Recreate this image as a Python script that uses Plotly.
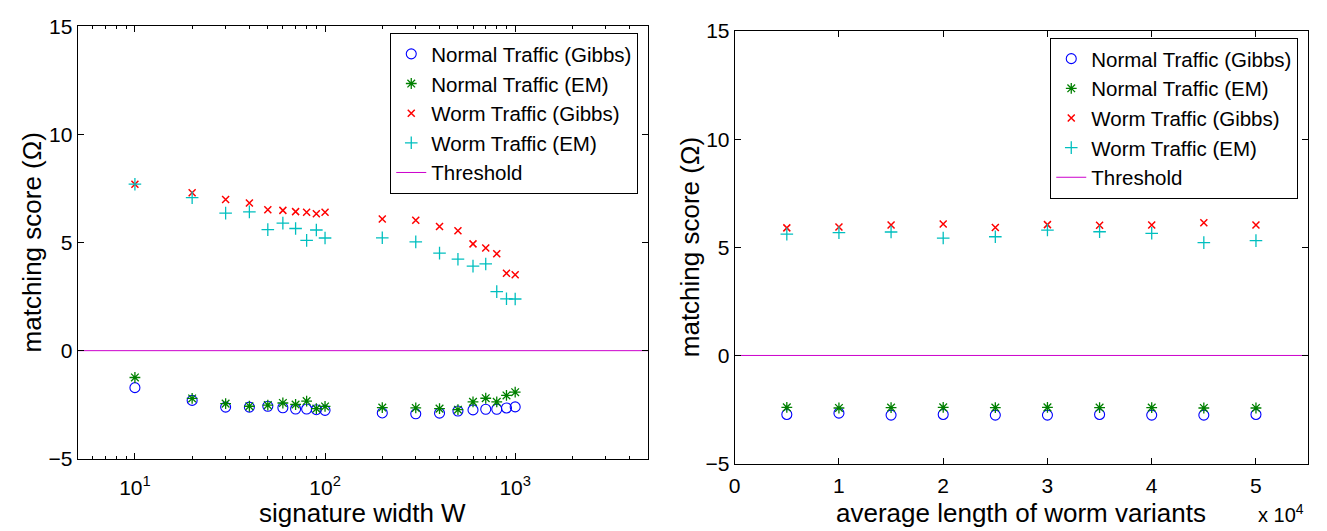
import plotly.graph_objects as go

# ---------------- data ----------------
# Left panel: signature width W
sig_width = [10, 20, 30, 40, 50, 60, 70, 80, 90, 100, 200, 300, 400, 500, 600, 700, 800, 900, 1000]
left_normal_gibbs = [-1.71, -2.30, -2.61, -2.61, -2.57, -2.64, -2.70, -2.70, -2.73, -2.76,
                     -2.88, -2.92, -2.89, -2.79, -2.74, -2.71, -2.71, -2.65, -2.60]
left_normal_em = [-1.24, -2.21, -2.45, -2.57, -2.52, -2.42, -2.49, -2.33, -2.68, -2.58,
                  -2.63, -2.65, -2.68, -2.73, -2.37, -2.20, -2.37, -2.07, -1.92]
left_worm_gibbs = [7.70, 7.30, 6.99, 6.83, 6.52, 6.49, 6.43, 6.40, 6.33, 6.40,
                   6.09, 6.03, 5.74, 5.55, 4.94, 4.75, 4.48, 3.58, 3.51]
left_worm_em = [7.70, 7.08, 6.36, 6.42, 5.60, 5.90, 5.65, 5.10, 5.58, 5.21,
                5.22, 5.03, 4.51, 4.23, 3.91, 4.01, 2.73, 2.40, 2.39]
left_thr_x = [5, 5000]
left_thr_y = [0, 0]

# Right panel: average length of worm variants
avg_len = [5000, 10000, 15000, 20000, 25000, 30000, 35000, 40000, 45000, 50000]
right_normal_gibbs = [-2.73, -2.67, -2.76, -2.73, -2.76, -2.76, -2.73, -2.76, -2.76, -2.73]
right_normal_em = [-2.40, -2.43, -2.41, -2.40, -2.41, -2.40, -2.41, -2.41, -2.43, -2.43]
right_worm_gibbs = [5.90, 5.94, 6.03, 6.08, 5.92, 6.05, 6.02, 6.03, 6.14, 6.03]
right_worm_em = [5.61, 5.68, 5.71, 5.43, 5.49, 5.80, 5.72, 5.65, 5.22, 5.31]
right_thr_x = [0, 55000]
right_thr_y = [0, 0]

series_names = ["Normal Traffic (Gibbs)", "Normal Traffic (EM)",
                "Worm Traffic (Gibbs)", "Worm Traffic (EM)", "Threshold"]
left_xticks = [10, 100, 1000]
left_xticktext = ["10<sup>1</sup>", "10<sup>2</sup>", "10<sup>3</sup>"]
right_xticks = [0, 10000, 20000, 30000, 40000, 50000]
right_xticktext = ["0", "1", "2", "3", "4", "5"]
yticks = [-5, 0, 5, 10, 15]

# ---------------- styling ----------------
FONT = "Liberation Sans, Arial, sans-serif"
W, H = 1327, 531
BLUE, GREEN, RED, CYAN, MAG = "#0000ff", "#008000", "#ff0000", "#00bfbf", "#cc00cc"

styles = [
    dict(symbol="circle-open", size=10, color=BLUE, line=dict(width=1.1, color=BLUE)),
    dict(symbol="asterisk-open", size=9, color=GREEN, line=dict(width=1.3, color=GREEN)),
    dict(symbol="x-thin-open", size=7, color=RED, line=dict(width=1.5, color=RED)),
    dict(symbol="cross-thin-open", size=9, color=CYAN, line=dict(width=1.3, color=CYAN)),
]

fig = go.Figure()

def add_panel(xv, ys, thr_x, thr_y, xa, ya, legend, thr_color):
    for name, y, st in zip(series_names[:4], ys, styles):
        fig.add_trace(go.Scatter(x=xv, y=y, mode="markers", name=name, marker=st,
                                 xaxis=xa, yaxis=ya, legend=legend))
    fig.add_trace(go.Scatter(x=thr_x, y=thr_y, mode="lines", name=series_names[4],
                             line=dict(color=thr_color, width=1), xaxis=xa, yaxis=ya,
                             legend=legend))

add_panel(sig_width, [left_normal_gibbs, left_normal_em, left_worm_gibbs, left_worm_em],
          left_thr_x, left_thr_y, "x", "y", "legend", MAG)
add_panel(avg_len, [right_normal_gibbs, right_normal_em, right_worm_gibbs, right_worm_em],
          right_thr_x, right_thr_y, "x2", "y2", "legend2", MAG)

def px_x(p):
    return p / W

def px_y(p):
    return (H - p) / H

minor_vals = [6, 7, 8, 9, 20, 30, 40, 50, 60, 70, 80, 90,
              200, 300, 400, 500, 600, 700, 800, 900, 2000, 3000, 4000]

axis_common = dict(showline=True, linecolor="black", linewidth=1, mirror="allticks",
                   ticks="inside", ticklen=6, tickcolor="black", showgrid=False,
                   zeroline=False, tickfont=dict(family=FONT, size=21, color="black"))

legend_common = dict(xanchor="left", yanchor="top", bordercolor="black", borderwidth=1,
                     bgcolor="white", font=dict(family=FONT, size=20.5, color="black"),
                     tracegroupgap=0, itemwidth=30)

fig.update_layout(
    width=W, height=H, margin=dict(l=0, r=0, t=0, b=0),
    paper_bgcolor="white", plot_bgcolor="white",
    font=dict(family=FONT, color="black"),
    xaxis=dict(domain=[px_x(72), px_x(645)], type="log",
               range=[0.69897, 3.69897], tickmode="array", tickvals=left_xticks,
               ticktext=left_xticktext, anchor="y", ticklabelstandoff=10,
               minor=dict(tickvals=minor_vals, ticks="inside", ticklen=3,
                          tickcolor="black"),
               **axis_common),
    yaxis=dict(domain=[px_y(467), px_y(15)], range=[-5, 15], tickmode="array",
               tickvals=yticks, anchor="x", **axis_common),
    xaxis2=dict(domain=[px_x(732), px_x(1308)], range=[0, 55000], tickmode="array",
                tickvals=right_xticks, ticktext=right_xticktext, anchor="y2",
                ticklabelstandoff=3, **axis_common),
    yaxis2=dict(domain=[px_y(472), px_y(20)], range=[-5, 15], tickmode="array",
                tickvals=yticks, anchor="x2", **axis_common),
    legend=dict(x=px_x(386), y=px_y(22), **legend_common),
    legend2=dict(x=px_x(1049), y=px_y(27), **legend_common),
    showlegend=True,
)

ann_font = dict(family=FONT, size=26, color="black")
fig.add_annotation(text="signature width W", x=px_x(358.5), y=px_y(524), xref="paper",
                   yref="paper", showarrow=False, font=ann_font, xanchor="center",
                   yanchor="middle", borderpad=0)
fig.add_annotation(text="average length of worm variants", x=px_x(1020), y=px_y(524),
                   xref="paper", yref="paper", showarrow=False, font=ann_font,
                   xanchor="center", yanchor="middle", borderpad=0)
fig.add_annotation(text="matching score (Ω)", x=px_x(26), y=px_y(241), xref="paper",
                   yref="paper", showarrow=False, font=ann_font, textangle=-90,
                   xanchor="center", yanchor="middle")
fig.add_annotation(text="matching score (Ω)", x=px_x(687), y=px_y(246), xref="paper",
                   yref="paper", showarrow=False, font=ann_font, textangle=-90,
                   xanchor="center", yanchor="middle")
fig.add_annotation(text="x 10<sup>4</sup>", x=px_x(1281), y=px_y(524), xref="paper",
                   yref="paper", showarrow=False,
                   font=dict(family=FONT, size=20, color="black"),
                   xanchor="center", yanchor="middle")

fig.write_html("out.html")
